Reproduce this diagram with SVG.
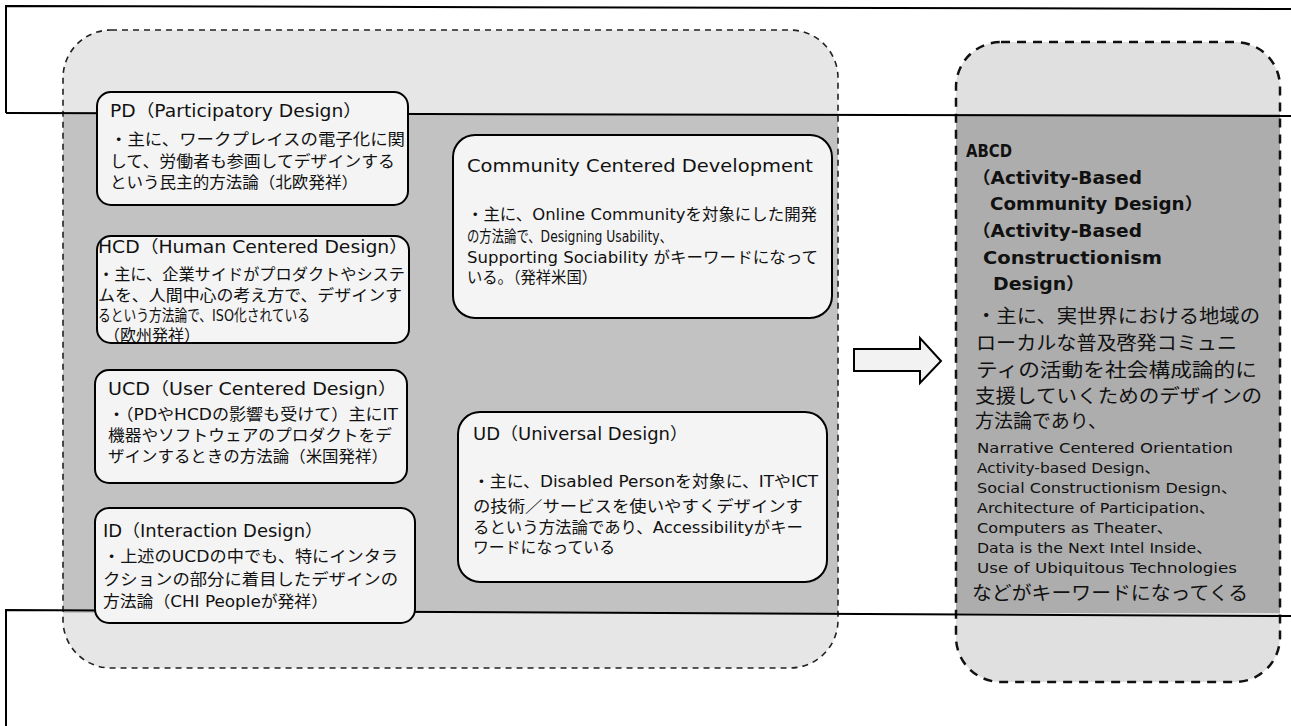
<svg xmlns="http://www.w3.org/2000/svg" width="1291" height="726" viewBox="0 0 1291 726">
<style>
text{lengthAdjust:spacingAndGlyphs}
.t{font-family:"DejaVu Sans","Noto Sans CJK JP",sans-serif;font-size:16px;fill:#111}
.h{font-size:17px}
.b{font-family:"DejaVu Sans","Noto Sans CJK JP",sans-serif;font-size:17px;font-weight:bold;fill:#111}
.j{font-size:19px}
.s{font-family:"DejaVu Sans","Noto Sans CJK JP",sans-serif;font-size:14px;fill:#111}
.box{fill:#f4f4f4;stroke:#000;stroke-width:2}
.fr{stroke:#000;stroke-width:2;fill:none}
.pdash{fill:none;stroke:#222;stroke-width:1.6;stroke-dasharray:6 5}
.rdash{fill:none;stroke:#111;stroke-width:2.5;stroke-dasharray:9 7}
</style>
<defs>
<clipPath id="mid"><rect x="0" y="114" width="1291" height="499"/></clipPath>
</defs>
<rect width="1291" height="726" fill="#fff"/>
<g id="panel-left">
<rect x="63" y="30" width="775" height="638" rx="48" fill="#e6e6e6"/>
<rect x="63" y="30" width="775" height="638" rx="48" fill="#c2c2c2" clip-path="url(#mid)"/>
<rect x="63" y="30" width="775" height="638" rx="48" class="pdash"/>
</g>
<g id="panel-right">
<rect x="956" y="42" width="324" height="640" rx="45" fill="#e0e0e0"/>
<rect x="956" y="42" width="324" height="640" rx="45" fill="#adadad" clip-path="url(#mid)"/>
<rect x="956" y="42" width="324" height="640" rx="45" class="rdash"/>
</g>
<g id="frame">
<polyline class="fr" points="6,113 6,6 1291,9"/>
<line class="fr" x1="6" y1="113" x2="1291" y2="116"/>
<polyline class="fr" points="6,726 6,610 1291,616"/>
</g>
<g id="pd">
<rect class="box" x="97" y="92" width="311" height="113" rx="14"/>
<text class="t h" x="110" y="117" textLength="252" lengthAdjust="spacingAndGlyphs">PD（Participatory Design）</text>
<text class="t" x="110" y="145" textLength="295" lengthAdjust="spacingAndGlyphs">・主に、ワークプレイスの電子化に関</text>
<text class="t" x="110" y="167" textLength="285" lengthAdjust="spacingAndGlyphs">して、労働者も参画してデザインする</text>
<text class="t" x="110" y="188" textLength="248" lengthAdjust="spacingAndGlyphs">という民主的方法論（北欧発祥）</text>
</g>
<g id="hcd">
<rect class="box" x="97" y="236" width="312" height="107" rx="14"/>
<text class="t h" x="98" y="253" textLength="310" lengthAdjust="spacingAndGlyphs">HCD（Human Centered Design）</text>
<text class="t" x="98" y="280" textLength="307" lengthAdjust="spacingAndGlyphs">・主に、企業サイドがプロダクトやシステ</text>
<text class="t" x="98" y="301" textLength="304" lengthAdjust="spacingAndGlyphs">ムを、人間中心の考え方で、デザインす</text>
<text class="t" x="98" y="321" textLength="212" lengthAdjust="spacingAndGlyphs">るという方法論で、ISO化されている</text>
<text class="t" x="104" y="341" textLength="96" lengthAdjust="spacingAndGlyphs">（欧州発祥）</text>
</g>
<g id="ucd">
<rect class="box" x="95" y="370" width="312" height="113" rx="14"/>
<text class="t h" x="108" y="395" textLength="289" lengthAdjust="spacingAndGlyphs">UCD（User Centered Design）</text>
<text class="t" x="108" y="420" textLength="290" lengthAdjust="spacingAndGlyphs">・（PDやHCDの影響も受けて）主にIT</text>
<text class="t" x="108" y="441" textLength="284" lengthAdjust="spacingAndGlyphs">機器やソフトウェアのプロダクトをデ</text>
<text class="t" x="108" y="462" textLength="280" lengthAdjust="spacingAndGlyphs">ザインするときの方法論（米国発祥）</text>
</g>
<g id="id">
<rect class="box" x="95" y="508" width="320" height="115" rx="14"/>
<text class="t h" x="103" y="537" textLength="220" lengthAdjust="spacingAndGlyphs">ID（Interaction Design）</text>
<text class="t" x="103" y="562" textLength="295" lengthAdjust="spacingAndGlyphs">・上述のUCDの中でも、特にインタラ</text>
<text class="t" x="103" y="585" textLength="295" lengthAdjust="spacingAndGlyphs">クションの部分に着目したデザインの</text>
<text class="t" x="103" y="607" textLength="225" lengthAdjust="spacingAndGlyphs">方法論（CHI Peopleが発祥）</text>
</g>
<g id="ccd">
<rect class="box" x="453" y="135" width="379" height="183" rx="22"/>
<text class="t h" x="467" y="172" textLength="346" lengthAdjust="spacingAndGlyphs">Community Centered Development</text>
<text class="t" x="467" y="220" textLength="350" lengthAdjust="spacingAndGlyphs">・主に、Online Communityを対象にした開発</text>
<text class="t" x="467" y="242" textLength="205" lengthAdjust="spacingAndGlyphs">の方法論で、Designing Usability、</text>
<text class="t" x="467" y="263" textLength="351" lengthAdjust="spacingAndGlyphs">Supporting Sociability がキーワードになって</text>
<text class="t" x="467" y="283" textLength="130" lengthAdjust="spacingAndGlyphs">いる。（発祥米国）</text>
</g>
<g id="ud">
<rect class="box" x="458" y="412" width="369" height="170" rx="22"/>
<text class="t h" x="473" y="440" textLength="215" lengthAdjust="spacingAndGlyphs">UD（Universal Design）</text>
<text class="t" x="473" y="487" textLength="345" lengthAdjust="spacingAndGlyphs">・主に、Disabled Personを対象に、ITやICT</text>
<text class="t" x="473" y="512" textLength="330" lengthAdjust="spacingAndGlyphs">の技術／サービスを使いやすくデザインす</text>
<text class="t" x="473" y="533" textLength="330" lengthAdjust="spacingAndGlyphs">るという方法論であり、Accessibilityがキー</text>
<text class="t" x="473" y="553" textLength="142" lengthAdjust="spacingAndGlyphs">ワードになっている</text>
</g>
<g id="abcd">
<text class="b" x="966" y="157" textLength="46" lengthAdjust="spacingAndGlyphs">ABCD</text>
<text class="b" x="972" y="184" textLength="170" lengthAdjust="spacingAndGlyphs">（Activity-Based</text>
<text class="b" x="990" y="210" textLength="213" lengthAdjust="spacingAndGlyphs">Community Design）</text>
<text class="b" x="972" y="237" textLength="170" lengthAdjust="spacingAndGlyphs">（Activity-Based</text>
<text class="b" x="983" y="264" textLength="179" lengthAdjust="spacingAndGlyphs">Constructionism</text>
<text class="b" x="993" y="290" textLength="92" lengthAdjust="spacingAndGlyphs">Design）</text>
<text class="t j" x="976" y="323" textLength="284" lengthAdjust="spacingAndGlyphs">・主に、実世界における地域の</text>
<text class="t j" x="976" y="350" textLength="261" lengthAdjust="spacingAndGlyphs">ローカルな普及啓発コミュニ</text>
<text class="t j" x="976" y="377" textLength="281" lengthAdjust="spacingAndGlyphs">ティの活動を社会構成論的に</text>
<text class="t j" x="975" y="403" textLength="287" lengthAdjust="spacingAndGlyphs">支援していくためのデザインの</text>
<text class="t j" x="975" y="428" textLength="132" lengthAdjust="spacingAndGlyphs">方法論であり、</text>
<text class="s" x="977" y="453" textLength="256" lengthAdjust="spacingAndGlyphs">Narrative Centered Orientation</text>
<text class="s" x="977" y="473" textLength="183" lengthAdjust="spacingAndGlyphs">Activity-based Design、</text>
<text class="s" x="977" y="493" textLength="260" lengthAdjust="spacingAndGlyphs">Social Constructionism Design、</text>
<text class="s" x="977" y="513" textLength="238" lengthAdjust="spacingAndGlyphs">Architecture of Participation、</text>
<text class="s" x="977" y="533" textLength="196" lengthAdjust="spacingAndGlyphs">Computers as Theater、</text>
<text class="s" x="977" y="553" textLength="235" lengthAdjust="spacingAndGlyphs">Data is the Next Intel Inside、</text>
<text class="s" x="977" y="573" textLength="260" lengthAdjust="spacingAndGlyphs">Use of Ubiquitous Technologies</text>
<text class="t j" x="972" y="600" textLength="276" lengthAdjust="spacingAndGlyphs">などがキーワードになってくる</text>
</g>
<g id="connectors">
<polygon points="854,349 920,349 920,338 941,361 920,383 920,371 854,371" fill="#f2f2f2" stroke="#000" stroke-width="2" stroke-linejoin="miter"/>
</g>
</svg>
